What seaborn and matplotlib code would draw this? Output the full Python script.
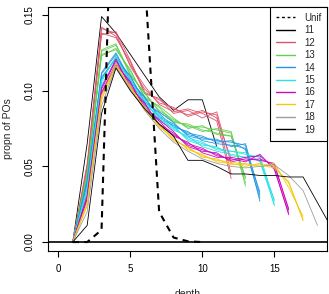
import pandas as pd
import seaborn as sns
import matplotlib.pyplot as plt
from matplotlib.lines import Line2D

# uniform reference distribution (dashed)
unif_depth = [1, 2, 3, 4, 5, 6, 7, 8, 9, 10]
unif_propn = [0, 0, 0.008, 0.33, 0.46, 0.175, 0.02, 0.003, 0.0005, 0]

# proportion of POs by depth, one list per simulated line, grouped by size
group_11 = [
    [0, 0.065, 0.149, 0.138, 0.124, 0.110, 0.096, 0.087, 0.094, 0.094, 0.063],
]
group_12 = [
    [0, 0.052, 0.141, 0.138, 0.116, 0.101, 0.092, 0.089, 0.083, 0.086, 0.084, 0.045],
    [0, 0.048, 0.138, 0.135, 0.119, 0.098, 0.095, 0.085, 0.087, 0.082, 0.086, 0.052],
    [0, 0.050, 0.142, 0.136, 0.117, 0.103, 0.091, 0.086, 0.088, 0.085, 0.080, 0.042],
    [0, 0.049, 0.137, 0.139, 0.120, 0.099, 0.094, 0.088, 0.084, 0.087, 0.082, 0.055],
]
group_13 = [
    [0, 0.046, 0.127, 0.131, 0.111, 0.098, 0.087, 0.081, 0.076, 0.076, 0.074, 0.072, 0.037],
    [0, 0.044, 0.123, 0.128, 0.113, 0.096, 0.089, 0.079, 0.078, 0.074, 0.072, 0.070, 0.043],
    [0, 0.045, 0.126, 0.130, 0.110, 0.099, 0.086, 0.080, 0.077, 0.073, 0.075, 0.073, 0.039],
    [0, 0.043, 0.124, 0.127, 0.114, 0.095, 0.090, 0.082, 0.075, 0.077, 0.071, 0.070, 0.042],
]
group_14 = [
    [0, 0.041, 0.112, 0.125, 0.107, 0.095, 0.083, 0.078, 0.071, 0.069, 0.067, 0.066, 0.064, 0.027],
    [0, 0.039, 0.108, 0.122, 0.109, 0.093, 0.085, 0.076, 0.073, 0.067, 0.065, 0.064, 0.062, 0.033],
    [0, 0.040, 0.111, 0.124, 0.106, 0.096, 0.082, 0.077, 0.072, 0.070, 0.066, 0.067, 0.061, 0.029],
    [0, 0.038, 0.109, 0.121, 0.110, 0.092, 0.086, 0.079, 0.070, 0.068, 0.068, 0.063, 0.065, 0.031],
]
group_15 = [
    [0, 0.036, 0.107, 0.122, 0.105, 0.093, 0.081, 0.076, 0.068, 0.065, 0.062, 0.060, 0.058, 0.056, 0.024],
    [0, 0.034, 0.103, 0.120, 0.107, 0.091, 0.083, 0.074, 0.070, 0.063, 0.060, 0.058, 0.056, 0.054, 0.028],
    [0, 0.035, 0.106, 0.123, 0.104, 0.094, 0.080, 0.075, 0.069, 0.066, 0.061, 0.060, 0.059, 0.053, 0.025],
    [0, 0.033, 0.104, 0.119, 0.108, 0.090, 0.084, 0.077, 0.067, 0.064, 0.063, 0.057, 0.056, 0.057, 0.027],
]
group_16 = [
    [0, 0.031, 0.101, 0.120, 0.103, 0.091, 0.078, 0.072, 0.064, 0.061, 0.058, 0.054, 0.056, 0.057, 0.049, 0.018],
    [0, 0.029, 0.099, 0.118, 0.105, 0.089, 0.080, 0.070, 0.066, 0.059, 0.056, 0.056, 0.054, 0.055, 0.051, 0.022],
    [0, 0.030, 0.102, 0.121, 0.102, 0.092, 0.077, 0.071, 0.065, 0.062, 0.057, 0.055, 0.053, 0.058, 0.048, 0.019],
    [0, 0.028, 0.098, 0.117, 0.106, 0.088, 0.081, 0.073, 0.063, 0.060, 0.059, 0.053, 0.055, 0.054, 0.052, 0.021],
]
group_17 = [
    [0, 0.026, 0.096, 0.118, 0.101, 0.089, 0.076, 0.069, 0.061, 0.058, 0.053, 0.052, 0.050, 0.052, 0.050, 0.039, 0.015],
    [0, 0.024, 0.094, 0.116, 0.103, 0.087, 0.078, 0.067, 0.063, 0.056, 0.055, 0.051, 0.052, 0.050, 0.052, 0.036, 0.017],
    [0, 0.025, 0.097, 0.115, 0.102, 0.088, 0.077, 0.068, 0.062, 0.057, 0.054, 0.053, 0.051, 0.051, 0.049, 0.040, 0.014],
]
group_18 = [
    [0, 0.020, 0.090, 0.116, 0.101, 0.087, 0.075, 0.066, 0.060, 0.055, 0.052, 0.050, 0.049, 0.050, 0.051, 0.044, 0.034, 0.011],
]
group_19 = [
    [0, 0.011, 0.085, 0.115, 0.100, 0.088, 0.078, 0.070, 0.054, 0.054, 0.050, 0.045, 0.045, 0.044, 0.044, 0.043, 0.043, 0.026, 0.009],
]

groups = {'11': group_11, '12': group_12, '13': group_13, '14': group_14, '15': group_15,
          '16': group_16, '17': group_17, '18': group_18, '19': group_19}
colours = {'11': 'black', '12': '#DF536B', '13': '#61D04F', '14': '#2297E6', '15': '#28E2E5',
           '16': '#CD0BBC', '17': '#F5C710', '18': '#9E9E9E', '19': 'black'}

rows = []
for g, lines in groups.items():
    for i, vals in enumerate(lines):
        for d, v in enumerate(vals, start=1):
            rows.append((d, v, g, g + '_' + str(i)))
df = pd.DataFrame(rows, columns=['depth', 'propn', 'group', 'line'])
unif = pd.DataFrame({'depth': unif_depth, 'propn': unif_propn})

sns.set_style('ticks')
plt.rcParams['font.family'] = ['Liberation Sans', 'DejaVu Sans']

fig = plt.figure(figsize=(3.29, 2.94), dpi=100)
ax = fig.add_axes([48 / 329, 43 / 294, 279 / 329, 244 / 294])

sns.lineplot(data=df, x='depth', y='propn', hue='group', units='line', estimator=None,
             palette=colours, lw=0.6, legend=False, sort=False, ax=ax)
sns.lineplot(data=unif, x='depth', y='propn', color='black', lw=1.5, ax=ax)
ax.lines[-1].set_dashes((3, 2.5))
ax.axhline(0, color='black', lw=1.2)

ax.set_xlim(-0.72, 18.66)
ax.set_ylim(-0.0059, 0.1553)
ax.set_xticks([0, 5, 10, 15])
ax.set_yticks([0, 0.05, 0.10, 0.15])
ax.set_yticklabels(['0.00', '0.05', '0.10', '0.15'], rotation=90, va='center')
ax.tick_params(length=4.3, width=0.8, labelsize=7, colors='black', pad=5)
for s in ax.spines.values():
    s.set_visible(True)
    s.set_color('black')
    s.set_linewidth(0.8)

ax.set_xlabel('depth', fontsize=7.5)
ax.set_ylabel('propn of POs', fontsize=7.5)
ax.xaxis.set_label_coords(0.5, -0.156)
ax.yaxis.set_label_coords(-0.125, 0.5)

handles = [Line2D([], [], color='black', lw=1, ls=(0, (2, 2)))]
labels = ['Unif']
for g in groups:
    handles.append(Line2D([], [], color=colours[g], lw=1))
    labels.append(g)
leg = ax.legend(handles, labels, loc='upper right', bbox_to_anchor=(1, 1), borderaxespad=0,
                fontsize=7, frameon=True, fancybox=False, framealpha=1, edgecolor='black',
                handlelength=2.0, handletextpad=0.9, labelspacing=0.25, borderpad=0.6)
leg.get_frame().set_linewidth(0.8)

fig.savefig('out.png', dpi=100)
